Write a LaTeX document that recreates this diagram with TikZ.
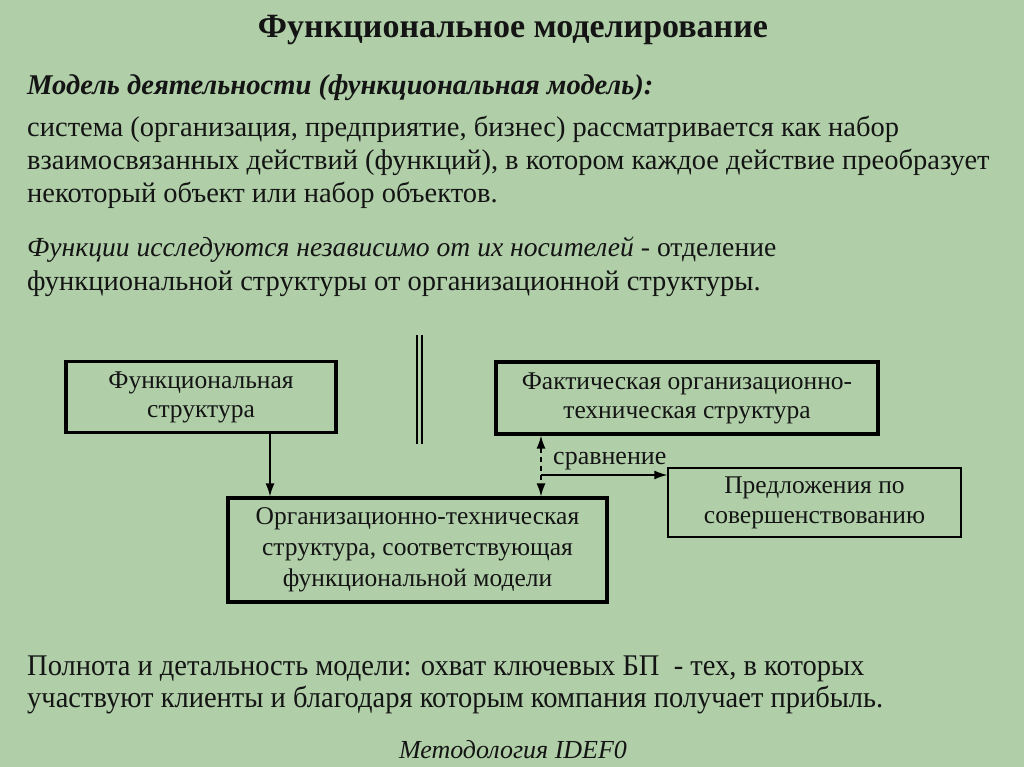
\documentclass[tikz,border=0pt]{standalone}
\usepackage{fontspec}
\setmainfont{Liberation Serif}
\newfontfamily\condfont[FakeStretch=0.95]{Liberation Serif}
\newfontfamily\bodyfont{Liberation Serif}
\usetikzlibrary{arrows.meta}
\definecolor{bg}{RGB}{176,207,168}
\definecolor{ink}{RGB}{20,20,20}
\begin{document}
\begin{tikzpicture}[x=1pt,y=-1pt,
  txt/.style={anchor=base west,inner sep=0pt,text=ink},
  thickbox/.style={draw=black,line width=3.2pt,text=ink,align=center,inner sep=0pt,font=\fontsize{25.5}{29}\selectfont},
  thinbox/.style={draw=black,line width=1.4pt,text=ink,align=center,inner sep=0pt,font=\fontsize{25.5}{30}\selectfont},
  arr/.style={line width=1.4pt,-{Latex[length=13pt,width=9pt]}},
  darr/.style={line width=1.4pt,dash pattern=on 5pt off 4pt,{Latex[length=13pt,width=9pt]}-{Latex[length=13pt,width=9pt]}}]
\fill[bg] (0,0) rectangle (1024,767);
\useasboundingbox (0,0) rectangle (1024,767);
% title
\node[anchor=base,inner sep=0pt,text=ink,font=\bodyfont\bfseries\fontsize{34}{38}\selectfont] (title) at (513,38) {Функциональное моделирование};
\node[txt,font=\bodyfont\bfseries\itshape\fontsize{28.6}{32}\selectfont] (sub) at (27,95) {Модель деятельности (функциональная модель):};
% body
\node[txt,font=\bodyfont\fontsize{28.5}{32}\selectfont] (b1) at (27,137) {система (организация, предприятие, бизнес) рассматривается как набор};
\node[txt,font=\bodyfont\fontsize{28.5}{32}\selectfont] (b2) at (27,170) {взаимосвязанных действий (функций), в котором каждое действие преобразует};
\node[txt,font=\bodyfont\fontsize{28.5}{32}\selectfont] (b3) at (27,203) {некоторый объект или набор объектов.};
\node[txt,font=\bodyfont\fontsize{27.6}{32}\selectfont] (b4) at (27,256) {\textit{Функции исследуются независимо от их носителей} - отделение};
\node[txt,font=\bodyfont\fontsize{28.5}{32}\selectfont] (b5) at (27,290) {функциональной структуры от организационной структуры.};
% boxes
\node[thickbox,minimum width=270pt,minimum height=71pt] (fs) at (201,397) {Функциональная\\структура};
\node[thickbox,minimum width=382pt,minimum height=72pt] (fact) at (687,398) {Фактическая организационно-\\техническая структура};
\node[thickbox,minimum width=379pt,minimum height=104pt,font=\fontsize{25.5}{31}\selectfont] (ots) at (417.5,550) {Организационно-техническая\\структура, соответствующая\\функциональной модели};
\node[thinbox,minimum width=293pt,minimum height=69pt] (pred) at (814.5,502.5) {Предложения по\\совершенствованию};
% double bar
\draw[line width=1.6pt] (417,335) -- (417,444) (422,335) -- (422,444);
% connectors
\draw[arr] ([xshift=69pt]fs.south) -- ([xshift=69pt]fs.south |- ots.north);
\coordinate (mid) at (541,475);
\draw[darr] (mid |- fact.south) -- (mid |- ots.north);
\draw[arr] (mid) -- (mid -| pred.west);
\node[anchor=base west,inner sep=0pt,text=ink,font=\fontsize{26}{30}\selectfont] (cmp) at (553,464) {сравнение};
% bottom
\node[txt,font=\condfont\fontsize{30}{34}\selectfont] (c1) at (27,675) {Полнота и детальность модели: охват ключевых БП\ \ - тех, в которых};
\node[txt,font=\condfont\fontsize{30}{34}\selectfont] (c2) at (27,707) {участвуют клиенты и благодаря которым компания получает прибыль.};
\node[anchor=base,inner sep=0pt,text=ink,font=\bodyfont\itshape\fontsize{26}{30}\selectfont] (meth) at (513,758) {Методология IDEF0};
\end{tikzpicture}
\end{document}
